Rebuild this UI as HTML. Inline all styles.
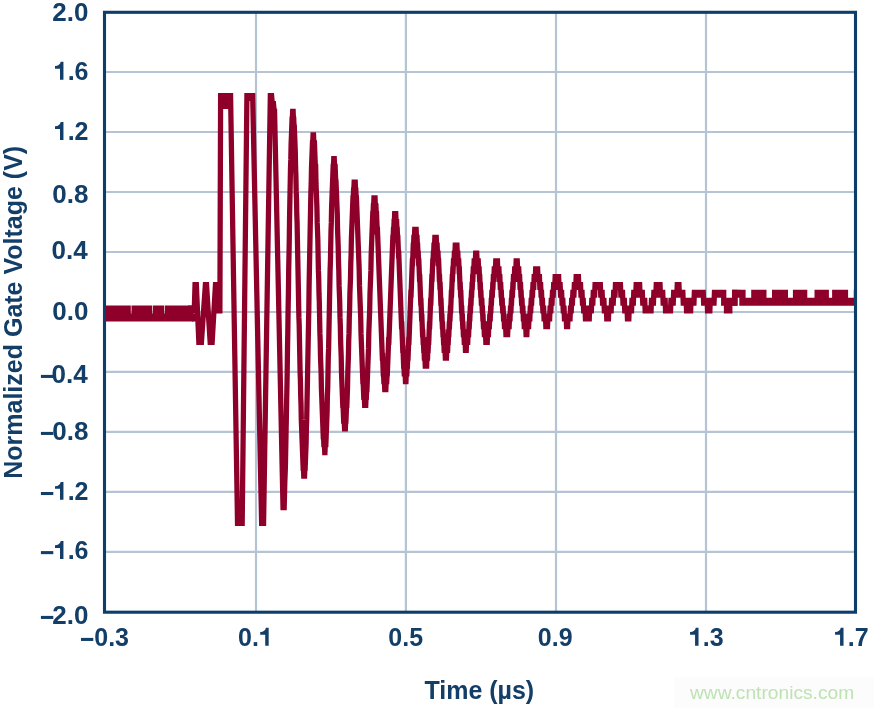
<!DOCTYPE html>
<html><head><meta charset="utf-8"><title>Normalized Gate Voltage</title>
<style>
html,body{margin:0;padding:0;background:#fff;}
body{width:874px;height:708px;overflow:hidden;}
svg{display:block;will-change:transform;}
text{font-family:"Liberation Sans",sans-serif;}
.b{font-weight:bold;fill:#123e68;}
.h{fill:none;}
</style></head><body>
<svg width="874" height="708" viewBox="0 0 874 708">
<rect x="0" y="0" width="874" height="708" fill="#ffffff"/>
<defs><clipPath id="pc"><rect x="104.5" y="12.3" width="751.0" height="599.9"/></clipPath></defs>
<g stroke="#b4c4d4" stroke-width="2.2" fill="none">
<line x1="256.0" y1="12.3" x2="256.0" y2="612.2"/>
<line x1="405.9" y1="12.3" x2="405.9" y2="612.2"/>
<line x1="556.0" y1="12.3" x2="556.0" y2="612.2"/>
<line x1="706.0" y1="12.3" x2="706.0" y2="612.2"/>
<line x1="104.5" y1="72.0" x2="855.5" y2="72.0"/>
<line x1="104.5" y1="132.0" x2="855.5" y2="132.0"/>
<line x1="104.5" y1="192.0" x2="855.5" y2="192.0"/>
<line x1="104.5" y1="252.0" x2="855.5" y2="252.0"/>
<line x1="104.5" y1="312.0" x2="855.5" y2="312.0"/>
<line x1="104.5" y1="371.9" x2="855.5" y2="371.9"/>
<line x1="104.5" y1="431.9" x2="855.5" y2="431.9"/>
<line x1="104.5" y1="491.9" x2="855.5" y2="491.9"/>
<line x1="104.5" y1="551.9" x2="855.5" y2="551.9"/>
</g>
<g clip-path="url(#pc)">
<path d="M100.00,305.53 L130.80,305.53 L130.80,313.40 L131.50,313.40 L131.50,305.53 L152.10,305.53 L152.10,313.40 L152.80,313.40 L152.80,305.53 L164.20,305.53 L164.20,313.40 L164.90,313.40 L164.90,305.53 L193.40,305.53 L193.40,321.40 L100.00,321.40 Z" fill="#8e0029"/>
<path d="M739.30,289.79 L745.60,289.79 L745.60,297.66 L751.20,297.66 L751.20,289.79 L766.50,289.79 L766.50,297.66 L772.00,297.66 L772.00,289.79 L788.00,289.79 L788.00,297.66 L792.90,297.66 L792.90,289.79 L807.30,289.79 L807.30,297.66 L814.50,297.66 L814.50,289.79 L828.90,289.79 L828.90,297.66 L832.10,297.66 L832.10,289.79 L848.10,289.79 L848.10,297.66 L853.80,297.66 L853.80,289.79 L860.00,289.79 L860.00,305.66 L739.30,305.66 Z M732.2,289.79 H737.7 V305.66 H732.2 Z" fill="#8e0029"/>
<path d="M218.2,93.01 H233.0 V108.88 H218.2 Z M192,313.40 H196.3 V321.40 H192 Z" fill="#8e0029"/>
<g transform="scale(0.660,1)">
<polyline fill="none" stroke="#8e0029" stroke-width="8.00" stroke-linejoin="miter" stroke-miterlimit="3" stroke-linecap="butt" points="284.85,309.53 294.39,309.53 295.45,285.92 297.58,285.92 301.21,341.01 305.30,341.01 311.06,285.92 313.03,285.92 318.33,341.01 321.52,341.01 326.36,285.92 328.18,285.92 330.91,309.53 333.18,309.53 334.24,97.01 349.39,97.01 359.85,522.05 366.97,522.05 374.09,97.01 382.88,97.01 396.36,522.05 399.39,522.05 409.55,97.01 411.67,97.01 412.73,104.88 414.55,104.88 415.61,112.75 416.06,112.75 428.79,506.30 430.61,506.30 431.52,482.69 431.97,474.82 432.42,466.95 432.88,451.21 433.33,435.46 433.79,419.72 434.24,403.98 434.70,388.24 435.15,372.50 435.61,348.88 436.06,333.14 436.52,309.53 436.97,293.79 437.42,270.17 437.88,254.43 438.33,238.69 438.79,215.08 439.24,199.33 439.70,183.59 440.15,167.85 440.61,159.98 441.06,144.24 441.52,136.37 441.97,128.50 442.42,120.62 442.88,120.62 443.33,112.75 444.24,112.75 444.70,120.62 445.15,120.62 445.61,128.50 446.06,128.50 446.52,136.37 446.97,144.24 447.42,152.11 447.88,167.85 448.33,175.72 448.79,191.46 449.24,199.33 449.70,215.08 450.15,222.95 450.61,238.69 451.06,254.43 451.52,270.17 451.97,285.92 452.42,301.66 452.88,317.40 453.33,325.27 453.79,341.01 454.24,356.75 454.70,372.50 455.15,380.37 455.61,396.11 456.06,403.98 456.52,419.72 456.97,427.59 457.42,435.46 457.88,443.34 458.33,451.21 458.79,459.08 459.24,466.95 459.70,466.95 460.15,474.82 461.52,474.82 461.97,466.95 462.42,466.95 462.88,459.08 463.33,451.21 463.79,443.34 464.24,427.59 464.70,419.72 465.15,403.98 465.61,388.24 466.06,372.50 466.52,356.75 466.97,341.01 467.42,325.27 467.88,309.53 468.33,285.92 468.79,270.17 469.24,254.43 469.70,238.69 470.15,222.95 470.61,207.21 471.06,191.46 471.52,183.59 471.97,167.85 472.42,159.98 472.88,152.11 473.33,144.24 473.79,144.24 474.24,136.37 475.15,136.37 475.61,144.24 476.52,144.24 476.97,152.11 477.42,159.98 477.88,167.85 478.33,167.85 478.79,183.59 479.24,191.46 479.70,199.33 480.15,207.21 480.61,222.95 481.06,230.82 481.52,238.69 481.97,254.43 482.42,270.17 482.88,278.04 483.33,293.79 483.79,301.66 484.24,317.40 484.70,333.14 485.15,341.01 485.61,356.75 486.06,364.63 486.52,372.50 486.97,388.24 487.42,396.11 487.88,403.98 488.33,411.85 488.79,419.72 489.24,427.59 489.70,435.46 490.15,435.46 490.61,443.34 491.52,443.34 491.97,451.21 492.42,451.21 492.88,443.34 493.79,443.34 494.24,435.46 494.70,427.59 495.15,419.72 495.61,411.85 496.06,396.11 496.52,388.24 496.97,372.50 497.42,356.75 497.88,348.88 498.33,333.14 498.79,317.40 499.24,301.66 499.70,285.92 500.15,270.17 500.61,262.30 501.06,246.56 501.52,230.82 501.97,222.95 502.42,207.21 502.88,199.33 503.33,191.46 503.79,183.59 504.24,175.72 504.70,167.85 505.15,167.85 505.61,159.98 506.52,159.98 506.97,167.85 507.88,167.85 508.33,175.72 508.79,183.59 509.24,183.59 509.70,191.46 510.15,199.33 510.61,207.21 511.06,215.08 511.52,230.82 511.97,238.69 512.42,246.56 512.88,262.30 513.33,270.17 513.79,285.92 514.24,293.79 514.70,301.66 515.15,317.40 515.61,325.27 516.06,341.01 516.52,348.88 516.97,356.75 517.42,372.50 517.88,380.37 518.33,388.24 518.79,396.11 519.24,403.98 519.70,403.98 520.15,411.85 520.61,419.72 521.52,419.72 521.97,427.59 523.33,427.59 523.79,419.72 524.24,419.72 524.70,411.85 525.15,403.98 525.61,403.98 526.06,396.11 526.52,388.24 526.97,372.50 527.42,364.63 527.88,356.75 528.33,341.01 528.79,333.14 529.24,317.40 529.70,309.53 530.15,293.79 530.61,285.92 531.06,278.04 531.52,262.30 531.97,254.43 532.42,238.69 532.88,230.82 533.33,222.95 533.79,215.08 534.24,207.21 534.70,199.33 535.15,199.33 535.61,191.46 536.06,191.46 536.52,183.59 538.33,183.59 538.79,191.46 539.24,191.46 539.70,199.33 540.15,199.33 540.61,207.21 541.06,215.08 541.52,222.95 541.97,230.82 542.42,238.69 542.88,246.56 543.33,254.43 543.79,262.30 544.24,270.17 544.70,285.92 545.15,293.79 545.61,301.66 546.06,309.53 546.52,317.40 546.97,333.14 547.42,341.01 547.88,348.88 548.33,356.75 548.79,364.63 549.24,372.50 549.70,380.37 550.15,380.37 550.61,388.24 551.06,396.11 551.97,396.11 552.42,403.98 554.24,403.98 554.70,396.11 555.15,396.11 555.61,388.24 556.06,388.24 556.52,380.37 556.97,372.50 557.42,364.63 557.88,356.75 558.33,348.88 558.79,333.14 559.24,325.27 559.70,317.40 560.15,309.53 560.61,293.79 561.06,285.92 561.52,278.04 561.97,270.17 562.42,254.43 562.88,246.56 563.33,238.69 563.79,230.82 564.24,222.95 564.70,215.08 565.15,215.08 565.61,207.21 566.06,207.21 566.52,199.33 568.33,199.33 568.79,207.21 569.70,207.21 570.15,215.08 570.61,215.08 571.06,222.95 571.52,230.82 571.97,230.82 572.42,238.69 572.88,246.56 573.33,254.43 573.79,262.30 574.24,270.17 574.70,278.04 575.15,285.92 575.61,293.79 576.06,301.66 576.52,309.53 576.97,317.40 577.42,325.27 577.88,333.14 578.33,341.01 578.79,348.88 579.24,356.75 579.70,356.75 580.15,364.63 580.61,372.50 581.06,372.50 581.52,380.37 582.42,380.37 582.88,388.24 584.70,388.24 585.15,380.37 586.06,380.37 586.52,372.50 586.97,372.50 587.42,364.63 587.88,356.75 588.33,348.88 588.79,341.01 589.24,341.01 589.70,333.14 590.15,325.27 590.61,317.40 591.06,309.53 591.52,301.66 591.97,293.79 592.42,285.92 592.88,278.04 593.33,270.17 593.79,262.30 594.24,254.43 594.70,246.56 595.15,238.69 595.61,238.69 596.06,230.82 596.52,230.82 596.97,222.95 597.42,222.95 597.88,215.08 599.70,215.08 600.15,222.95 601.06,222.95 601.52,230.82 601.97,230.82 602.42,238.69 602.88,238.69 603.33,246.56 603.79,254.43 604.24,254.43 604.70,262.30 605.15,270.17 605.61,278.04 606.06,285.92 606.52,293.79 606.97,301.66 607.42,309.53 607.88,317.40 608.33,325.27 608.79,325.27 609.24,333.14 609.70,341.01 610.15,348.88 610.61,348.88 611.06,356.75 611.52,364.63 611.97,364.63 612.42,372.50 613.79,372.50 614.24,380.37 615.15,380.37 615.61,372.50 616.52,372.50 616.97,364.63 617.42,364.63 617.88,356.75 618.33,356.75 618.79,348.88 619.24,341.01 619.70,341.01 620.15,333.14 620.61,325.27 621.06,317.40 621.52,309.53 621.97,301.66 622.42,293.79 622.88,293.79 623.33,285.92 623.79,278.04 624.24,270.17 624.70,262.30 625.15,262.30 625.61,254.43 626.06,246.56 626.52,246.56 626.97,238.69 627.88,238.69 628.33,230.82 630.61,230.82 631.06,238.69 631.97,238.69 632.42,246.56 632.88,246.56 633.33,254.43 633.79,254.43 634.24,262.30 634.70,262.30 635.15,270.17 635.61,278.04 636.06,278.04 636.52,285.92 636.97,293.79 637.42,301.66 637.88,301.66 638.33,309.53 638.79,317.40 639.24,317.40 639.70,325.27 640.15,333.14 640.61,333.14 641.06,341.01 641.52,341.01 641.97,348.88 642.42,348.88 642.88,356.75 643.79,356.75 644.24,364.63 646.52,364.63 646.97,356.75 647.88,356.75 648.33,348.88 648.79,348.88 649.24,341.01 649.70,341.01 650.15,333.14 650.61,325.27 651.06,325.27 651.52,317.40 651.97,309.53 652.42,301.66 652.88,301.66 653.33,293.79 653.79,285.92 654.24,278.04 654.70,278.04 655.15,270.17 655.61,262.30 656.06,262.30 656.52,254.43 656.97,254.43 657.42,246.56 658.33,246.56 658.79,238.69 661.06,238.69 661.52,246.56 662.42,246.56 662.88,254.43 663.79,254.43 664.24,262.30 664.70,262.30 665.15,270.17 665.61,278.04 666.06,278.04 666.52,285.92 666.97,285.92 667.42,293.79 667.88,301.66 668.33,301.66 668.79,309.53 669.24,317.40 669.70,317.40 670.15,325.27 670.61,325.27 671.06,333.14 671.52,333.14 671.97,341.01 672.42,341.01 672.88,348.88 674.24,348.88 674.70,356.75 676.52,356.75 676.97,348.88 678.33,348.88 678.79,341.01 679.24,341.01 679.70,333.14 680.15,333.14 680.61,325.27 681.06,325.27 681.52,317.40 681.97,317.40 682.42,309.53 682.88,309.53 683.33,301.66 683.79,293.79 684.24,293.79 684.70,285.92 685.15,278.04 685.61,278.04 686.06,270.17 686.52,270.17 686.97,262.30 687.88,262.30 688.33,254.43 689.24,254.43 689.70,246.56 692.42,246.56 692.88,254.43 693.79,254.43 694.24,262.30 695.15,262.30 695.61,270.17 696.06,270.17 696.52,278.04 696.97,285.92 697.42,285.92 697.88,293.79 698.33,293.79 698.79,301.66 699.24,309.53 699.70,309.53 700.15,317.40 700.61,317.40 701.06,325.27 701.52,325.27 701.97,333.14 702.88,333.14 703.33,341.01 704.70,341.01 705.15,348.88 706.52,348.88 706.97,341.01 708.79,341.01 709.24,333.14 710.15,333.14 710.61,325.27 711.06,325.27 711.52,317.40 711.97,317.40 712.42,309.53 712.88,309.53 713.33,301.66 713.79,301.66 714.24,293.79 714.70,293.79 715.15,285.92 715.61,285.92 716.06,278.04 716.52,278.04 716.97,270.17 717.88,270.17 718.33,262.30 720.15,262.30 720.61,254.43 722.42,254.43 722.88,262.30 724.70,262.30 725.15,270.17 726.06,270.17 726.52,278.04 726.97,278.04 727.42,285.92 727.88,285.92 728.33,293.79 728.79,293.79 729.24,301.66 730.15,301.66 730.61,309.53 731.06,309.53 731.52,317.40 731.97,317.40 732.42,325.27 733.33,325.27 733.79,333.14 735.61,333.14 736.06,341.01 738.33,341.01 738.79,333.14 740.15,333.14 740.61,325.27 741.52,325.27 741.97,317.40 742.88,317.40 743.33,309.53 743.79,309.53 744.24,301.66 744.70,301.66 745.15,293.79 746.06,293.79 746.52,285.92 746.97,285.92 747.42,278.04 748.33,278.04 748.79,270.17 750.61,270.17 751.06,262.30 753.79,262.30 754.24,270.17 756.06,270.17 756.52,278.04 757.42,278.04 757.88,285.92 758.79,285.92 759.24,293.79 759.70,293.79 760.15,301.66 761.06,301.66 761.52,309.53 762.42,309.53 762.88,317.40 763.79,317.40 764.24,325.27 766.06,325.27 766.52,333.14 769.24,333.14 769.70,325.27 771.52,325.27 771.97,317.40 772.88,317.40 773.33,309.53 774.24,309.53 774.70,301.66 775.15,301.66 775.61,293.79 776.52,293.79 776.97,285.92 777.42,285.92 777.88,278.04 779.24,278.04 779.70,270.17 781.52,270.17 781.97,262.30 783.79,262.30 784.24,270.17 786.06,270.17 786.52,278.04 787.42,278.04 787.88,285.92 788.79,285.92 789.24,293.79 789.70,293.79 790.15,301.66 791.06,301.66 791.52,309.53 792.42,309.53 792.88,317.40 793.79,317.40 794.24,325.27 796.52,325.27 796.97,333.14 798.33,333.14 798.79,325.27 801.06,325.27 801.52,317.40 802.88,317.40 803.33,309.53 804.24,309.53 804.70,301.66 805.61,301.66 806.06,293.79 806.97,293.79 807.42,285.92 808.79,285.92 809.24,278.04 811.06,278.04 811.52,270.17 814.70,270.17 815.15,278.04 817.42,278.04 817.88,285.92 819.24,285.92 819.70,293.79 820.61,293.79 821.06,301.66 821.97,301.66 822.42,309.53 823.79,309.53 824.24,317.40 826.52,317.40 826.97,325.27 829.70,325.27 830.15,317.40 832.88,317.40 833.33,309.53 834.70,309.53 835.15,301.66 836.52,301.66 836.97,293.79 838.33,293.79 838.79,285.92 840.61,285.92 841.06,278.04 846.52,278.04 846.97,285.92 848.79,285.92 849.24,293.79 851.06,293.79 851.52,301.66 852.88,301.66 853.33,309.53 854.70,309.53 855.15,317.40 857.88,317.40 858.33,325.27 860.15,325.27 860.61,317.40 863.79,317.40 864.24,309.53 865.61,309.53 866.06,301.66 867.42,301.66 867.88,293.79 869.70,293.79 870.15,285.92 872.42,285.92 872.88,278.04 876.52,278.04 876.97,285.92 879.70,285.92 880.15,293.79 881.97,293.79 882.42,301.66 883.79,301.66 884.24,309.53 886.52,309.53 886.97,317.40 892.88,317.40 893.33,309.53 896.06,309.53 896.52,301.66 898.33,301.66 898.79,293.79 901.06,293.79 901.52,285.92 909.70,285.92 910.15,293.79 912.42,293.79 912.88,301.66 915.15,301.66 915.61,309.53 918.79,309.53 919.24,317.40 921.97,317.40 922.42,309.53 926.06,309.53 926.52,301.66 929.24,301.66 929.70,293.79 931.97,293.79 932.42,285.92 940.15,285.92 940.61,293.79 943.33,293.79 943.79,301.66 946.06,301.66 946.52,309.53 950.15,309.53 950.61,317.40 952.88,317.40 953.33,309.53 956.97,309.53 957.42,301.66 959.70,301.66 960.15,293.79 963.33,293.79 963.79,285.92 969.24,285.92 969.70,293.79 973.33,293.79 973.79,301.66 976.97,301.66 977.42,309.53 986.52,309.53 986.97,301.66 990.15,301.66 990.61,293.79 993.79,293.79 994.24,285.92 1000.15,285.92 1000.61,293.79 1004.24,293.79 1004.70,301.66 1007.88,301.66 1008.33,309.53 1016.06,309.53 1016.52,301.66 1020.15,301.66 1020.61,293.79 1025.61,293.79 1026.06,285.92 1028.79,285.92 1029.24,293.79 1034.70,293.79 1035.15,301.66 1039.70,301.66 1040.15,309.53 1046.52,309.53 1046.97,301.66 1051.52,301.66 1051.97,293.79 1065.61,293.79 1066.06,301.66 1071.52,301.66 1071.97,309.53 1075.61,309.53 1076.06,301.66 1081.97,301.66 1082.42,293.79 1093.79,293.79 1096.52,293.79 1096.52,301.66 1100.76,301.66 1100.76,309.53 1105.76,309.53 1105.76,301.66 1113.03,301.66 1113.03,293.79 1121.21,293.79"/>
</g></g>
<rect x="104.50" y="12.30" width="751.00" height="599.90" fill="none" stroke="#0d3e6b" stroke-width="3.10"/>
<text class="b" x="52.36" y="20.60" font-size="25.0" textLength="36.14" lengthAdjust="spacingAndGlyphs">2.0</text>
<text class="b" x="53.75" y="79.70" font-size="25.0" textLength="34.75" lengthAdjust="spacingAndGlyphs"><tspan class="h">1</tspan>.6</text><path class="b" transform="translate(53.75,79.70) scale(1.0000,1.0000)" d="M9.7,0 V-17.85 H6.95 C6.6,-15.3 4.5,-13.75 1.25,-13.6 V-11.0 H6.25 V0 Z"/>
<text class="b" x="53.75" y="139.90" font-size="25.0" textLength="34.75" lengthAdjust="spacingAndGlyphs"><tspan class="h">1</tspan>.2</text><path class="b" transform="translate(53.75,139.90) scale(1.0000,1.0000)" d="M9.7,0 V-17.85 H6.95 C6.6,-15.3 4.5,-13.75 1.25,-13.6 V-11.0 H6.25 V0 Z"/>
<text class="b" x="52.36" y="202.60" font-size="25.0" textLength="36.14" lengthAdjust="spacingAndGlyphs">0.8</text>
<text class="b" x="51.56" y="258.60" font-size="25.0" textLength="36.14" lengthAdjust="spacingAndGlyphs">0.4</text>
<text class="b" x="52.36" y="319.70" font-size="25.0" textLength="36.14" lengthAdjust="spacingAndGlyphs">0.0</text>
<text class="b" x="37.10" y="382.70" font-size="25.0" textLength="50.60" lengthAdjust="spacingAndGlyphs"><tspan class="h">–</tspan>0.4</text><rect class="b" x="40.90" y="374.90" width="12.40" height="3.05"/>
<text class="b" x="37.90" y="439.70" font-size="25.0" textLength="50.60" lengthAdjust="spacingAndGlyphs"><tspan class="h">–</tspan>0.8</text><rect class="b" x="40.90" y="431.90" width="12.40" height="3.05"/>
<text class="b" x="39.84" y="499.80" font-size="25.0" textLength="48.66" lengthAdjust="spacingAndGlyphs"><tspan class="h">–</tspan><tspan class="h">1</tspan>.2</text><rect class="b" x="40.90" y="492.00" width="12.40" height="3.05"/><path class="b" transform="translate(53.75,499.80) scale(1.0000,1.0000)" d="M9.7,0 V-17.85 H6.95 C6.6,-15.3 4.5,-13.75 1.25,-13.6 V-11.0 H6.25 V0 Z"/>
<text class="b" x="39.84" y="558.90" font-size="25.0" textLength="48.66" lengthAdjust="spacingAndGlyphs"><tspan class="h">–</tspan><tspan class="h">1</tspan>.6</text><rect class="b" x="40.90" y="551.10" width="12.40" height="3.05"/><path class="b" transform="translate(53.75,558.90) scale(1.0000,1.0000)" d="M9.7,0 V-17.85 H6.95 C6.6,-15.3 4.5,-13.75 1.25,-13.6 V-11.0 H6.25 V0 Z"/>
<text class="b" x="37.90" y="623.70" font-size="25.0" textLength="50.60" lengthAdjust="spacingAndGlyphs"><tspan class="h">–</tspan>2.0</text><rect class="b" x="40.90" y="615.90" width="12.40" height="3.05"/>
<text class="b" x="80.37" y="645.70" font-size="25.0" textLength="48.66" lengthAdjust="spacingAndGlyphs"><tspan class="h">–</tspan>0.3</text><rect class="b" x="80.97" y="637.90" width="12.30" height="3.05"/>
<text class="b" x="238.12" y="645.70" font-size="25.0" textLength="34.75" lengthAdjust="spacingAndGlyphs">0.<tspan class="h">1</tspan></text><path class="b" transform="translate(258.97,645.70) scale(1.0000,1.0000)" d="M9.7,0 V-17.85 H6.95 C6.6,-15.3 4.5,-13.75 1.25,-13.6 V-11.0 H6.25 V0 Z"/>
<text class="b" x="388.32" y="645.70" font-size="25.0" textLength="34.75" lengthAdjust="spacingAndGlyphs">0.5</text>
<text class="b" x="537.82" y="645.70" font-size="25.0" textLength="34.75" lengthAdjust="spacingAndGlyphs">0.9</text>
<text class="b" x="688.82" y="645.70" font-size="25.0" textLength="34.75" lengthAdjust="spacingAndGlyphs"><tspan class="h">1</tspan>.3</text><path class="b" transform="translate(688.82,645.70) scale(1.0000,1.0000)" d="M9.7,0 V-17.85 H6.95 C6.6,-15.3 4.5,-13.75 1.25,-13.6 V-11.0 H6.25 V0 Z"/>
<text class="b" x="833.82" y="645.70" font-size="25.0" textLength="34.75" lengthAdjust="spacingAndGlyphs"><tspan class="h">1</tspan>.7</text><path class="b" transform="translate(833.82,645.70) scale(1.0000,1.0000)" d="M9.7,0 V-17.85 H6.95 C6.6,-15.3 4.5,-13.75 1.25,-13.6 V-11.0 H6.25 V0 Z"/>
<text class="b" x="479.3" y="698.8" font-size="25.0" text-anchor="middle">Time (µs)</text>
<text class="b" transform="translate(21.9,312.3) rotate(-90)" font-size="25.0" text-anchor="middle">Normalized Gate Voltage (V)</text>
<rect x="674" y="677.5" width="200" height="30.5" fill="#fcfcfc"/>
<text x="690" y="698.6" font-size="19.2" fill="#bee3b3">www.cntronics.com</text>
</svg>
</body></html>
